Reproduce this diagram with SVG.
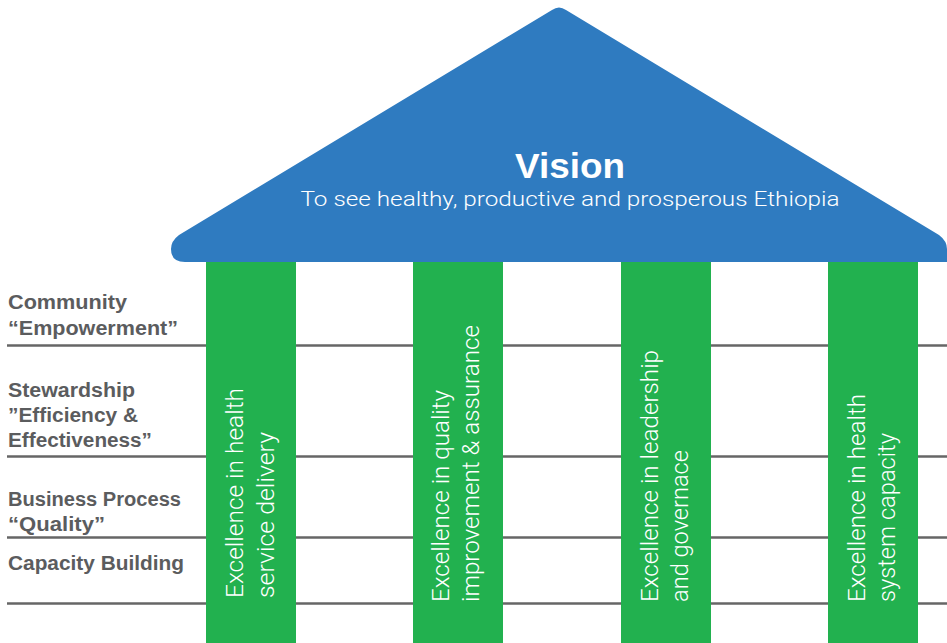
<svg xmlns="http://www.w3.org/2000/svg" width="947" height="643" viewBox="0 0 947 643">
<style>
.lbl{font-family:"Liberation Sans",Arial,sans-serif;font-weight:bold;font-size:20px;fill:#5b5c5e}
.pil{fill:#22b14f}
.ptxt{font-family:Roboto,"Liberation Sans",sans-serif;font-weight:300;font-size:24px;fill:#ffffff}
.rule{stroke:#666666;stroke-width:2.6;fill:none}
</style>
<rect width="947" height="643" fill="#ffffff"/>
<g id="rules">
<line class="rule" x1="7" y1="345.5" x2="947" y2="345.5"/>
<line class="rule" x1="7" y1="456.5" x2="947" y2="456.5"/>
<line class="rule" x1="7" y1="537.5" x2="947" y2="537.5"/>
<line class="rule" x1="7" y1="603.5" x2="947" y2="603.5"/>
</g>
<g id="labels">
<text class="lbl" x="8" y="309" textLength="119" lengthAdjust="spacingAndGlyphs">Community</text>
<text class="lbl" x="8" y="335" textLength="170" lengthAdjust="spacingAndGlyphs">“Empowerment”</text>
<text class="lbl" x="8" y="397" textLength="127" lengthAdjust="spacingAndGlyphs">Stewardship</text>
<text class="lbl" x="8" y="421.5" textLength="130" lengthAdjust="spacingAndGlyphs">”Efficiency &amp;</text>
<text class="lbl" x="8" y="446.5" textLength="144" lengthAdjust="spacingAndGlyphs">Effectiveness”</text>
<text class="lbl" x="8" y="506" textLength="173" lengthAdjust="spacingAndGlyphs">Business Process</text>
<text class="lbl" x="8" y="530.5" textLength="97" lengthAdjust="spacingAndGlyphs">“Quality”</text>
<text class="lbl" x="8" y="570" textLength="176" lengthAdjust="spacingAndGlyphs">Capacity Building</text>
</g>
<g id="pillar1">
<rect class="pil" x="206" y="255" width="90" height="388"/>
<text class="ptxt" transform="translate(243,598) rotate(-90)"><tspan x="0" y="0" textLength="210" lengthAdjust="spacingAndGlyphs">Excellence in health</tspan><tspan x="0" y="31" textLength="166" lengthAdjust="spacingAndGlyphs">service delivery</tspan></text>
</g>
<g id="pillar2">
<rect class="pil" x="413" y="255" width="90" height="388"/>
<text class="ptxt" transform="translate(448.5,602) rotate(-90)"><tspan x="0" y="0" textLength="212" lengthAdjust="spacingAndGlyphs">Excellence in quality</tspan><tspan x="0" y="30" textLength="277" lengthAdjust="spacingAndGlyphs">improvement &amp; assurance</tspan></text>
</g>
<g id="pillar3">
<rect class="pil" x="621" y="255" width="90" height="388"/>
<text class="ptxt" transform="translate(657.5,602) rotate(-90)"><tspan x="0" y="0" textLength="252" lengthAdjust="spacingAndGlyphs">Excellence in leadership</tspan><tspan x="0" y="30" textLength="152" lengthAdjust="spacingAndGlyphs">and governace</tspan></text>
</g>
<g id="pillar4">
<rect class="pil" x="828" y="255" width="90" height="388"/>
<text class="ptxt" transform="translate(865,602) rotate(-90)"><tspan x="0" y="0" textLength="208" lengthAdjust="spacingAndGlyphs">Excellence in health</tspan><tspan x="0" y="30" textLength="169" lengthAdjust="spacingAndGlyphs">system capacity</tspan></text>
</g>
<g id="roof">
<path d="M185,262 Q171,262 171,249 Q171,241 179,235 L552,10 Q559,5 566,10 L939,235 Q947,241 947,249 L947,262 Z" fill="#2f7bc0"/>
<text x="570" y="178" text-anchor="middle" font-family="Liberation Sans,Arial,sans-serif" font-weight="bold" font-size="35" fill="#ffffff" textLength="110" lengthAdjust="spacingAndGlyphs">Vision</text>
<text x="570" y="206" text-anchor="middle" font-family="Roboto,Liberation Sans,sans-serif" font-weight="300" font-size="21" fill="#ffffff" textLength="539" lengthAdjust="spacingAndGlyphs">To see healthy, productive and prosperous Ethiopia</text>
</g>
</svg>
